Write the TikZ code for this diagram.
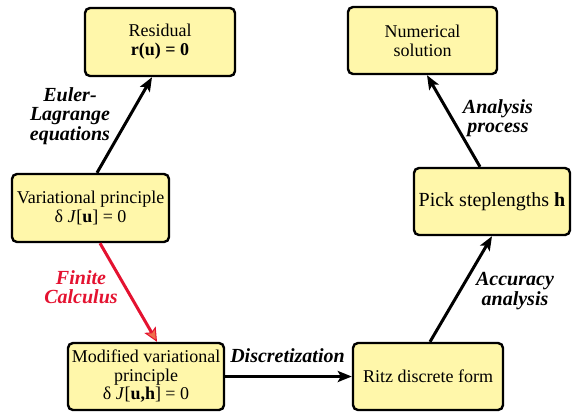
\documentclass[tikz,border=0pt]{standalone}
\usepackage{fontspec}
\setmainfont{Liberation Serif}
\usetikzlibrary{arrows.meta}
\definecolor{boxfill}{RGB}{255,247,170}
\definecolor{fcred}{RGB}{228,18,48}
\definecolor{fctip}{RGB}{240,110,75}
\begin{document}
\begin{tikzpicture}[x=1bp,y=-1bp,
  stepbox/.style={draw, line width=2.4bp, rounded corners=5bp, fill=boxfill,
    inner sep=0pt, align=center, font=\fontsize{18bp}{19bp}\selectfont},
  conn/.style={line width=3bp, -{Stealth[length=14bp,width=11bp,inset=3bp]}},
  lab/.style={align=center, font=\fontsize{20bp}{19.5bp}\selectfont\bfseries\itshape}]
\useasboundingbox (0,0) rectangle (572,412);
\node[stepbox, minimum width=150bp, minimum height=68bp] (res) at (160,42) {Residual\\\textbf{r(u) = 0}};
\node[stepbox, minimum width=149bp, minimum height=67bp] (num) at (422.5,40.5) {Numerical\\solution};
\node[stepbox, minimum width=157bp, minimum height=68bp] (var) at (90.5,208) {Variational principle\\δ \textit{J}[\textbf{u}] = 0};
\node[stepbox, minimum width=156bp, minimum height=67bp, font=\fontsize{20bp}{20bp}\selectfont] (pick) at (492,201.5) {Pick steplengths \textbf{h}};
\node[stepbox, minimum width=156bp, minimum height=67bp, font=\fontsize{18bp}{18.5bp}\selectfont] (mod) at (146,376.5) {Modified variational\\principle\\δ \textit{J}[\textbf{u,h}] = 0};
\node[stepbox, minimum width=150bp, minimum height=67bp] (ritz) at (428,376.5) {Ritz discrete form};

\draw[conn] ([xshift=6.5bp]var.north) -- ([xshift=-8bp]res.south);
\draw[conn, fcred, -{Stealth[length=14bp,width=13bp,inset=3bp,fill=fctip,line width=1bp]}] ([xshift=9.5bp]var.south) -- ([xshift=11bp]mod.north);
\draw[conn] (mod.east) -- (ritz.west);
\draw[conn] ([xshift=2bp]ritz.north) -- (pick.south);
\draw[conn] ([xshift=-12bp]pick.north) -- ([xshift=4.5bp]num.south);

\node[lab] (el) at (70,116) {Euler-\\Lagrange\\equations};
\node[lab, text=fcred] (fc) at (81,287) {Finite\\Calculus};
\node[lab] (dis) at (287.5,356) {Discretization};
\node[lab] (acc) at (515,291) {Accuracy\\analysis};
\node[lab] (ana) at (498,118) {Analysis\\process};
\end{tikzpicture}
\end{document}
